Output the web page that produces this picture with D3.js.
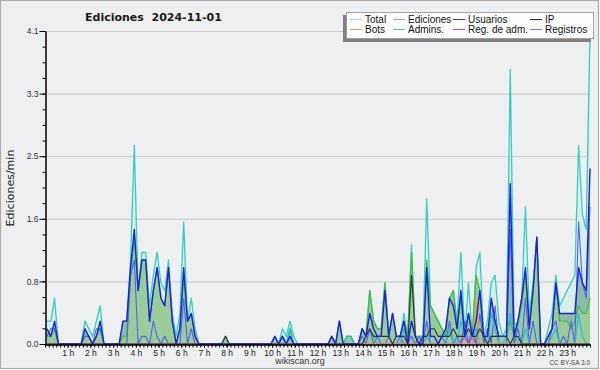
<!DOCTYPE html>
<html><head><meta charset="utf-8">
<script src="https://cdn.jsdelivr.net/npm/d3@7"></script>
<style>body{margin:0;background:#fff}</style>
</head><body>
<svg id="c" width="600" height="370"></svg>
<script>
const hours = d3.range(1, 24);
const hourLabels = hours.map(h => h + " h");
const yMajor = [0, 0.82, 1.64, 2.46, 3.28, 4.1];
const yTickLabels = ["0.0", "0.8", "1.6", "2.5", "3.3", "4.1"];
const seriesNames = ["Total", "Ediciones", "Usuarios", "IP", "Bots", "Admins.", "Reg. de adm.", "Registros"];

// 10-minute bins, values in edits/min (6 per hour)
const total = [
 0.3,0.3,0.6,0,0,0,  0,0,0,0,0.3,0.2,  0.1,0.3,0.5,0,0,0,  0,0,0.3,0.3,1.1,2.6,
 0.7,1.2,1.2,0.5,0.9,1.2,  0.8,0.7,1.1,0.4,0.1,0.4,  1.6,0.3,0.6,0.2,0,0,  0,0,0,0,0,0.1,
 0,0,0,0,0,0,  0,0,0,0,0,0,  0.1,0,0.2,0.1,0.3,0.1,  0,0,0,0,0,0,
 0,0,0,0.1,0,0.3,  0,0.1,0.1,0,0,0.2,  0.1,0.7,0.3,0.2,0.2,0.8,  0.1,0.4,0.1,0.1,0.4,0.1,
 1.3,0.1,0.1,0.1,1.9,0.5,  0.4,0.3,0.2,0.1,0.6,0.7,  0.3,1.2,0.1,0.8,0.1,1.0,  1.2,0.1,0.3,0.8,0.9,0.3,
 0.1,0.2,3.6,0.3,0.2,0.6,  1.8,0.4,0.8,1.4,0,0,  0.2,0.4,0.9,0.5,0.6,0.7,  0.8,0.9,2.6,1.7,1.5,4.1
];
const ediciones = [
 0.1,0.1,0.2,0,0,0,  0,0,0,0,0.1,0.1,  0,0.1,0.2,0,0,0,  0,0,0.1,0.1,0.9,1.4,
 0.7,1.1,1.1,0.3,0.7,1.0,  0.6,0.5,1.0,0.3,0,0.2,  0.9,0.3,0.4,0.1,0,0,  0,0,0,0,0,0.1,
 0,0,0,0,0,0,  0,0,0,0,0,0,  0.1,0,0.1,0,0.2,0,  0,0,0,0,0,0,
 0,0,0,0.1,0,0.3,  0,0.1,0.1,0,0,0.2,  0.1,0.7,0.3,0.2,0.2,0.8,  0.1,0.4,0.1,0.1,0.3,0.1,
 1.2,0.1,0.1,0.1,1.1,0.5,  0.4,0.3,0.2,0.1,0.6,0.7,  0.2,0.6,0.1,0.4,0.1,0.9,  0.7,0.1,0.1,0.4,0.3,0.1,
 0.1,0.1,0.3,0.1,0.3,0.5,  0.9,0.3,0.7,1.4,0,0,  0.1,0.2,0.8,0.3,0.3,0.3,  0.2,0.3,0.5,0.4,0.4,0.6
];
const usuarios = [
 0.2,0.1,0.3,0,0,0,  0,0,0,0,0.2,0.1,  0,0.1,0.3,0,0,0,  0,0,0.3,0.3,1.0,1.5,
 0.7,1.1,1.1,0.3,0.7,1.0,  0.6,0.5,1.0,0.3,0,0.2,  1.0,0.3,0.4,0.1,0,0,  0,0,0,0,0,0,
 0,0,0,0,0,0,  0,0,0,0,0,0,  0.1,0,0.1,0,0.1,0,  0,0,0,0,0,0,
 0,0,0,0.1,0,0.3,  0,0,0,0,0,0.2,  0.1,0.4,0.2,0.1,0.1,0.7,  0.1,0.4,0.1,0.1,0.3,0,
 0.3,0.1,0,0,1.0,0.1,  0.1,0,0.1,0.2,0.6,0.5,  0.2,0.7,0.1,0.4,0.1,0.3,  0.7,0.1,0.1,0.6,0.3,0.1,
 0.1,0.1,2.1,0.1,0.3,0.6,  1.0,0.2,0.7,1.4,0,0,  0.1,0.2,0.8,0.4,0.4,0.4,  0.4,0.4,1.0,0.8,0.7,2.3
];
const ip = [
 0,0,0,0,0,0,  0,0,0,0,0,0,  0,0,0,0,0,0,  0,0,0,0,0,0,
 0,0,0,0,0,0,  0,0,0,0,0,0,  0,0,0,0,0,0,  0,0,0,0,0,0.1,
 0,0,0,0,0,0,  0,0,0,0,0,0,  0,0,0,0,0,0,  0,0,0,0,0,0,
 0,0,0,0,0,0,  0,0,0,0,0,0,  0.1,0.2,0.1,0.1,0.1,0.1,  0.1,0,0.1,0.1,0.1,0,
 0.9,0.1,0,0.1,0.1,0.2,  0.2,0.1,0.1,0.1,0.1,0.2,  0.1,0.1,0.1,0.2,0.1,0.1,  0.2,0.1,0,0.1,0.1,0.1,
 0.1,0.1,0,0.1,0.1,0,  0,0,0,0,0,0,  0,0,0,0,0,0,  0,0,0,0,0,0
];
const bots = [
 0,0,0,0,0,0,  0,0,0,0,0,0,  0,0,0,0,0,0,  0,0,0,0,0,0,
 0,0,0,0,0,0,  0,0,0,0,0,0,  0,0,0,0,0,0,  0,0,0,0,0,0,
 0,0,0,0,0,0,  0,0,0,0,0,0,  0,0,0,0,0,0,  0,0,0,0,0,0,
 0,0,0,0,0,0,  0,0,0,0,0,0,  0,0,0,0,0,0,  0,0,0,0,0,0,
 0,0,0,0,0,0,  0,0,0,0,0,0,  0,0,0,0,0,0.6,  0,0,0,0,0,0,
 0,0,0,0,0,0,  0,0,0,0,0,0,  0,0,0,0,0,0,  0,0,0,0,0,0
];
const admins = [
 0,0,0,0,0,0,  0,0,0,0,0,0,  0,0,0,0,0,0,  0,0,0,0,0,0,
 0,0,0,0,0,0,  0,0,0,0,0,0,  0,0,0,0,0,0,  0,0,0,0,0,0,
 0,0,0,0,0,0,  0,0,0,0,0,0,  0.1,0,0.1,0,0.2,0,  0,0,0,0,0,0,
 0,0,0,0,0,0,  0,0.1,0.1,0,0,0,  0.1,0.2,0.1,0,0,0,  0,0,0,0,0.2,0,
 0,0,0,0,0.1,0,  0,0,0,0,0.2,0,  0,0.3,0.1,0,0,0.2,  0,0,0,0.4,0.2,0,
 0,0.1,0.4,0.2,0,0,  0.2,0,0,0,0,0,  0,0.1,0.2,0,0,0,  0,0,0.4,0.1,0,0
];
const regAdm = [
 0,0,0,0,0,0,  0,0,0,0,0,0,  0,0,0,0,0,0,  0,0,0,0,0,0,
 0,0,0,0,0,0,  0,0,0,0,0,0,  0,0,0,0,0,0,  0,0,0,0,0,0,
 0,0,0,0,0,0,  0,0,0,0,0,0,  0,0,0,0,0,0,  0,0,0,0,0,0,
 0,0,0,0,0,0,  0,0,0,0,0,0,  0,0,0,0,0,0,  0,0,0,0,0,0,
 0,0,0,0,0,0,  0,0,0,0,0,0,  0,0,0.1,0,0.1,0,  0,0,0,0,0,0,
 0,0,0,0,0,0,  0,0,0,0,0,0,  0,0,0,0,0,0,  0,0,0,0,0,0
];
const registros = [
 0.1,0.2,0.2,0,0,0,  0,0,0,0,0.1,0.1,  0,0.2,0.2,0,0,0,  0,0,0,0,0.9,1.1,
 0,0.1,0.1,0,0.3,0.1,  0,0.1,0,0,0,0,  0.6,0,0.2,0,0,0,  0,0,0,0,0,0,
 0,0,0,0,0,0,  0,0,0,0,0,0,  0,0,0.1,0,0.1,0,  0,0,0,0,0,0,
 0,0,0,0.1,0,0,  0,0,0,0,0,0.1,  0,0.2,0,0.1,0,0,  0.1,0,0,0.1,0,0,
 0.1,0,0.1,0,0.3,0,  0,0,0.1,0,0.3,0,  0.1,0,0.3,0,0.2,0,  0.4,0,0.2,0,0.5,0,
 0,0,1.5,0,0.2,0,  0.6,0,0.3,0,0,0,  0,0.2,0.3,0,0.1,0,  0.3,0,1.6,0.8,0.6,1.8
];

const lineColors = {
  Total: "#38ccc4", Ediciones: "#44bb44", Usuarios: "#2020d8", IP: "#333333",
  Bots: "#ff9922", "Admins.": "#22b8dd", "Reg. de adm.": "#cc33dd", Registros: "#5060f4"
};
const legendColors = ["#a4e6de", "#80d080", "#3434d4", "#333333", "#f4a040", "#44c8d8", "#c444e0", "#7878ee"];

const svg = d3.select("#c");
svg.append("rect").attr("x", 0.5).attr("y", 0.5).attr("width", 598).attr("height", 368)
  .attr("fill", "#eeeff0").attr("stroke", "#acacac").attr("stroke-width", 1.2);

const x = d3.scaleLinear().domain([0, total.length - 1]).range([47, 590]);
const xh = d3.scaleLinear().domain([0, 24]).range([45, 590]);
const y = d3.scaleLinear().domain([0, 4.1]).range([344, 31]);

// grid
svg.append("g").selectAll("line").data(yMajor.slice(1)).join("line")
  .attr("x1", 46).attr("x2", 590).attr("y1", d => y(d) + 0.5).attr("y2", d => y(d) + 0.5)
  .attr("stroke", "#c9c9c9").attr("stroke-width", 1);

const area = d3.area().x((d, i) => x(i)).y0(y(0)).y1(d => y(d));
const line = d3.line().x((d, i) => x(i)).y(d => y(d));

const plot = svg.append("g");
plot.append("path").datum(total).attr("d", area).attr("fill", "#d8efe9");
plot.append("path").datum(usuarios).attr("d", area).attr("fill", "#8cbcaa");
plot.append("path").datum(ediciones).attr("d", area).attr("fill", "#99cc99");

const drawLine = (data, name, w) => plot.append("path").datum(data).attr("d", line)
  .attr("fill", "none").attr("stroke", lineColors[name]).attr("stroke-width", w)
  .attr("stroke-linejoin", "round");
drawLine(total, "Total", 1.3);
drawLine(ediciones, "Ediciones", 1.3);
drawLine(registros, "Registros", 1.1);
drawLine(admins, "Admins.", 1.1);
drawLine(regAdm, "Reg. de adm.", 1.1);
drawLine(bots, "Bots", 1.1);
drawLine(ip, "IP", 1.1);
drawLine(usuarios, "Usuarios", 1.4);

// axes
const fontSmall = "'Liberation Sans', Arial, sans-serif";
const yMinor = d3.range(0, 21).map(k => k * 4.1 / 20);
const gyMinor = svg.append("g").attr("transform", "translate(45.5,0)")
  .call(d3.axisLeft(y).tickValues(yMinor).tickSize(3).tickSizeOuter(0).tickFormat(""));
const gy = svg.append("g").attr("transform", "translate(45.5,0)")
  .call(d3.axisLeft(y).tickValues(yMajor).tickSize(6).tickSizeOuter(0).tickPadding(1)
    .tickFormat((d, i) => yTickLabels[i]));
gy.selectAll("text").attr("font-family", fontSmall).attr("font-size", 8.5).attr("fill", "#333");
[gyMinor, gy].forEach(g => { g.selectAll("line").attr("stroke", "#000"); g.select(".domain").attr("stroke", "#000"); });

const xMinor = d3.range(0, 145).map(k => k / 6);
const gxMinor = svg.append("g").attr("transform", "translate(0,344.5)")
  .call(d3.axisBottom(xh).tickValues(xMinor).tickSize(3).tickSizeOuter(0).tickFormat(""));
const gx = svg.append("g").attr("transform", "translate(0,344.5)")
  .call(d3.axisBottom(xh).tickValues(hours).tickSize(3).tickSizeOuter(0).tickPadding(2)
    .tickFormat((d, i) => hourLabels[i]));
gx.selectAll("text").attr("font-family", fontSmall).attr("font-size", 8.5).attr("fill", "#222");
[gxMinor, gx].forEach(g => { g.selectAll("line").attr("stroke", "#000"); g.select(".domain").attr("stroke", "#000").attr("stroke-width", 1.2); });

// texts
svg.append("text").attr("x", 85).attr("y", 21).attr("font-family", "'DejaVu Sans', sans-serif")
  .attr("font-weight", "bold").attr("font-size", 11).attr("fill", "#1a1a1a")
  .style("white-space", "pre").text("Ediciones  2024-11-01");
svg.append("text").attr("transform", "translate(13.5,188) rotate(-90)").attr("text-anchor", "middle")
  .attr("font-family", "'DejaVu Sans', sans-serif").attr("font-size", 11).attr("fill", "#222")
  .text("Ediciones/min");
svg.append("text").attr("x", 300).attr("y", 364).attr("text-anchor", "middle")
  .attr("font-family", fontSmall).attr("font-size", 9).attr("fill", "#333").text("wikiscan.org");
svg.append("text").attr("x", 590).attr("y", 365).attr("text-anchor", "end")
  .attr("font-family", fontSmall).attr("font-size", 6.5).attr("fill", "#444").text("CC BY-SA 3.0");

// legend
const lg = svg.append("g");
lg.append("rect").attr("x", 343).attr("y", 15).attr("width", 248).attr("height", 27).attr("fill", "#808080");
lg.append("rect").attr("x", 346.5).attr("y", 12.5).attr("width", 247).attr("height", 26)
  .attr("fill", "#ffffff").attr("stroke", "#a0a0a0");
const colX = [350, 393, 453, 530];
seriesNames.forEach((name, k) => {
  const cx = colX[k % 4], cy = k < 4 ? 19.5 : 29.5;
  lg.append("line").attr("x1", cx).attr("x2", cx + 12).attr("y1", cy).attr("y2", cy)
    .attr("stroke", legendColors[k]).attr("stroke-width", 1);
  lg.append("text").attr("x", cx + 15).attr("y", cy + 3.5).attr("font-family", fontSmall)
    .attr("font-size", 10).attr("fill", "#111").text(name);
});
</script>
</body></html>
